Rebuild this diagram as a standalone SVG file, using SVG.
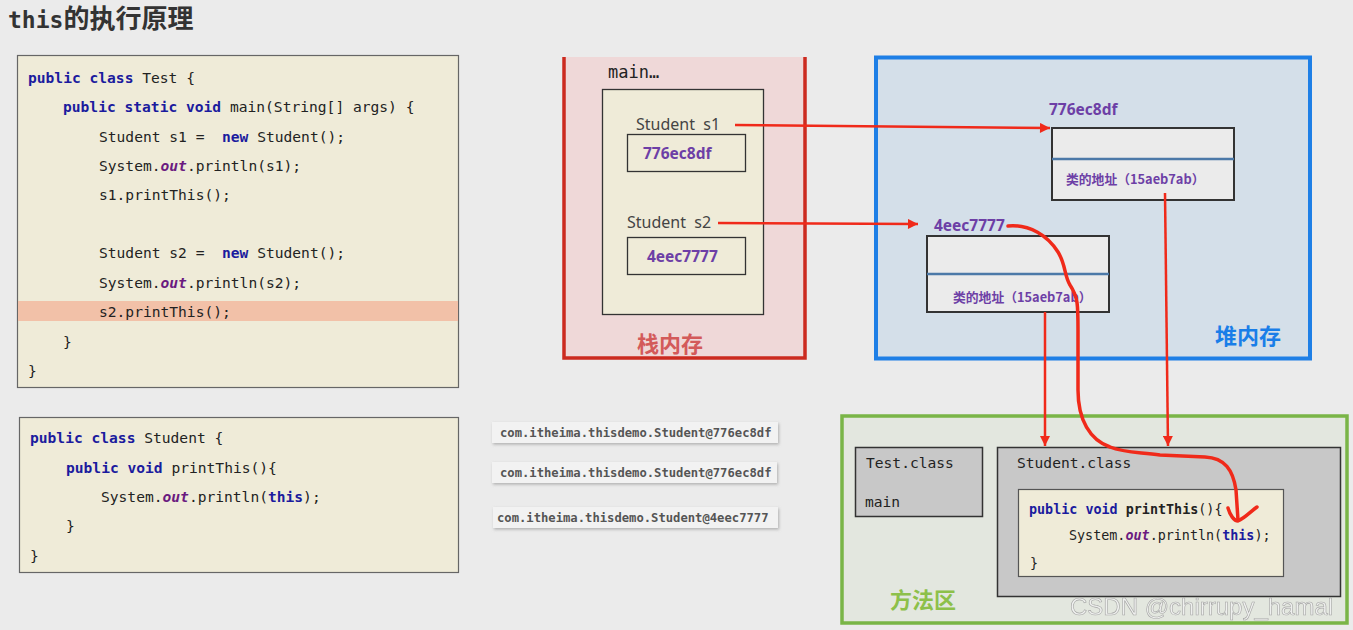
<svg xmlns="http://www.w3.org/2000/svg" width="1353" height="630" viewBox="0 0 1353 630">
<defs>
<style>
.code{font-family:"DejaVu Sans Mono","Liberation Mono",monospace;font-size:14.6px;fill:#222;white-space:pre}
.kw{fill:#1b1b9e;font-weight:bold}
.it{fill:#6a1a80;font-style:italic;font-weight:bold}
.out{font-family:"DejaVu Sans Mono","Liberation Mono",monospace;font-size:12.2px;font-weight:bold;fill:#555}
.lbl{font-family:"Noto Sans","Noto Sans CJK SC",sans-serif;font-size:16px;fill:#444;white-space:pre}
.addr{font-family:"Noto Sans","Noto Sans CJK SC",sans-serif;font-size:15.5px;font-weight:bold;fill:#6d3fa6}
.cls{font-family:"Noto Sans CJK SC",sans-serif;font-size:12.8px;font-weight:bold;fill:#6d3fa6}
.big{font-family:"Noto Sans CJK SC",sans-serif;font-size:22px;font-weight:bold}
.obj{fill:#ebebeb;stroke:#333;stroke-width:2}
.div{stroke:#4c79a8;stroke-width:2.5}
.arr{stroke:#f02a1a;stroke-width:2.5;fill:none}
.hand{stroke:#f02a1a;stroke-width:3.5;fill:none;stroke-linecap:round;stroke-linejoin:round}
</style>
<marker id="ah" viewBox="0 0 10 10" refX="10" refY="5" markerWidth="5" markerHeight="4" markerUnits="strokeWidth" orient="auto">
<path d="M0,0 L10,5 L0,10 z" fill="#f02a1a"/>
</marker>
<filter id="sh" x="-5%" y="-30%" width="115%" height="170%">
<feDropShadow dx="1" dy="1.5" stdDeviation="1.5" flood-color="#888" flood-opacity="0.6"/>
</filter>
</defs>
<rect width="1353" height="630" fill="#ebebeb"/>

<text x="8" y="28" font-weight="bold" fill="#333"><tspan font-family="DejaVu Sans Mono,monospace" font-size="23">this</tspan><tspan font-family="Noto Sans CJK SC,sans-serif" font-size="26">的执行原理</tspan></text>

<g id="test-code">
<rect x="17.5" y="55.5" width="441" height="332" fill="#efebd8" stroke="#666" stroke-width="1.2"/>
<rect x="18" y="301" width="440" height="20" fill="#f2c1a8"/>
<text class="code" x="28" y="83"><tspan class="kw">public class</tspan> Test {</text>
<text class="code" x="63" y="112"><tspan class="kw">public static void</tspan> main(String[] args) {</text>
<text class="code" x="99" y="142">Student s1 =  <tspan class="kw">new</tspan> Student();</text>
<text class="code" x="99" y="171">System.<tspan class="it">out</tspan>.println(s1);</text>
<text class="code" x="99" y="200">s1.printThis();</text>
<text class="code" x="99" y="258">Student s2 =  <tspan class="kw">new</tspan> Student();</text>
<text class="code" x="99" y="288">System.<tspan class="it">out</tspan>.println(s2);</text>
<text class="code" x="99" y="317">s2.printThis();</text>
<text class="code" x="63" y="347">}</text>
<text class="code" x="28" y="376">}</text>
</g>

<g id="student-code">
<rect x="19.5" y="417.5" width="439" height="155" fill="#efebd8" stroke="#666" stroke-width="1.2"/>
<text class="code" x="30" y="443"><tspan class="kw">public class</tspan> Student {</text>
<text class="code" x="66" y="473"><tspan class="kw">public void</tspan> printThis(){</text>
<text class="code" x="101" y="502">System.<tspan class="it">out</tspan>.println(<tspan class="kw">this</tspan>);</text>
<text class="code" x="66" y="531">}</text>
<text class="code" x="30" y="561">}</text>
</g>

<g id="outputs">
<rect x="492" y="422" width="286" height="21" fill="#f2f2f2" filter="url(#sh)"/>
<text class="out" x="500" y="437">com.itheima.thisdemo.Student@776ec8df</text>
<rect x="492" y="462" width="285" height="21" fill="#f2f2f2" filter="url(#sh)"/>
<text class="out" x="500" y="477">com.itheima.thisdemo.Student@776ec8df</text>
<rect x="493" y="507" width="285" height="21" fill="#f2f2f2" filter="url(#sh)"/>
<text class="out" x="497" y="522">com.itheima.thisdemo.Student@4eec7777</text>
</g>

<g id="stack">
<rect x="564" y="57" width="241" height="301" fill="#efd8d8"/>
<path d="M564,57 V358 H805 V57" fill="none" stroke="#cc2a1f" stroke-width="3.5"/>
<text x="608" y="78" font-family="DejaVu Sans Mono,monospace" font-size="17" fill="#222">main…</text>
<rect x="602.5" y="89.5" width="161" height="225" fill="#efebd8" stroke="#333" stroke-width="1.3"/>
<text class="lbl" x="636" y="130">Student  s1</text>
<rect x="627.5" y="134.5" width="118" height="37" fill="#efebd8" stroke="#333" stroke-width="1.3"/>
<text class="addr" x="643" y="159">776ec8df</text>
<text class="lbl" x="627" y="228">Student  s2</text>
<rect x="627.5" y="237.5" width="118" height="37" fill="#efebd8" stroke="#333" stroke-width="1.3"/>
<text class="addr" x="647" y="262">4eec7777</text>
<text class="big" x="637" y="352" fill="#d35a5a">栈内存</text>
</g>

<g id="heap">
<rect x="876" y="57.5" width="434" height="301" fill="#d4dfe9" stroke="#1e7fe6" stroke-width="4"/>
<text class="addr" x="1049" y="115">776ec8df</text>
<rect class="obj" x="1052" y="128" width="182" height="72"/>
<line class="div" x1="1052" y1="159" x2="1234" y2="159"/>
<text class="cls" x="1066" y="184">类的地址（15aeb7ab）</text>
<text class="addr" x="934" y="231">4eec7777</text>
<rect class="obj" x="927" y="236" width="182" height="76"/>
<line class="div" x1="927" y1="274" x2="1109" y2="274"/>
<text class="cls" x="953" y="302">类的地址（15aeb7ab）</text>
<text class="big" x="1215" y="344" fill="#1a7ee8">堆内存</text>
</g>

<g id="method-area">
<rect x="842" y="416" width="505" height="207" fill="#e3e7df" stroke="#7ab547" stroke-width="3.5"/>
<rect x="855.5" y="447.5" width="127" height="69" fill="#c8c8c8" stroke="#333" stroke-width="1.5"/>
<text class="code" x="866" y="468">Test.class</text>
<text class="code" x="865" y="507">main</text>
<rect x="997.5" y="447.5" width="343" height="149" fill="#c8c8c8" stroke="#333" stroke-width="1.5"/>
<text class="code" x="1017" y="468">Student.class</text>
<rect x="1018.5" y="489.5" width="265" height="87" fill="#efebd8" stroke="#555" stroke-width="1.2"/>
<text class="code" x="1029" y="514" style="font-size:13.4px"><tspan class="kw">public void</tspan> <tspan font-weight="bold">printThis</tspan>(){</text>
<text class="code" x="1069" y="540" style="font-size:13.4px">System.<tspan class="it">out</tspan>.println(<tspan class="kw">this</tspan>);</text>
<text class="code" x="1030" y="568" style="font-size:13.4px">}</text>
<text class="big" x="890" y="608" fill="#8dc04a">方法区</text>
</g>

<g id="connectors">
<path class="arr" d="M735,125 L1050,128" marker-end="url(#ah)"/>
<path class="arr" d="M718,223 L918,224" marker-end="url(#ah)"/>
<path class="arr" d="M1045,312 L1045,446" marker-end="url(#ah)"/>
<path class="arr" d="M1165,193 L1168,446" marker-end="url(#ah)"/>
<path class="hand" d="M1008,226 C1030,224 1048,236 1058,252 C1066,265 1064,275 1070,285 C1078,297 1078,305 1078,330 L1078,390 C1078,420 1090,440 1110,447 C1125,453 1140,452 1160,455 L1205,457 C1225,458 1233,470 1236,490 L1238,520"/>
<path class="hand" d="M1228,508 C1230,515 1234,521 1238,521 C1245,518 1250,512 1257,507"/>
</g>

<text x="1070" y="615" font-family="Liberation Sans,Arial,sans-serif" font-size="24" fill="#f2f2f2" stroke="#9a9a9a" stroke-width="0.6" opacity="0.85">CSDN @chirrupy_hamal</text>
</svg>
